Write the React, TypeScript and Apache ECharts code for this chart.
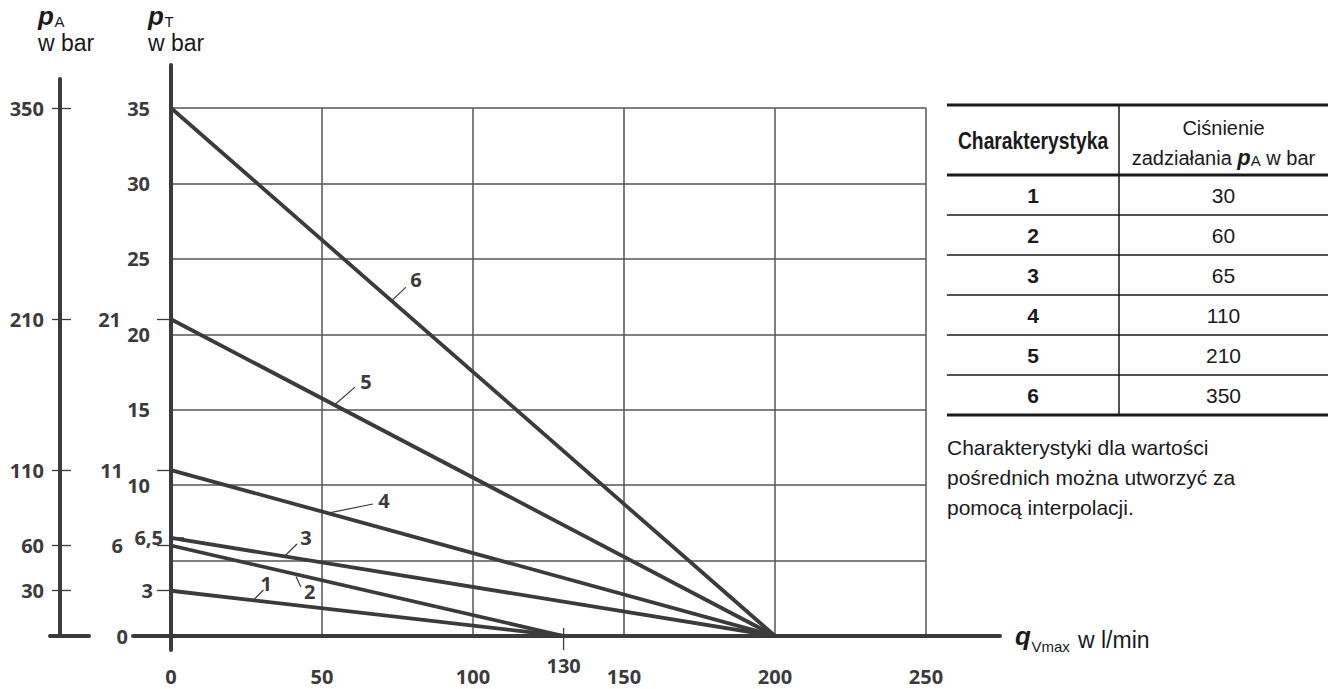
import React, { useEffect, useRef } from "react";
import * as echarts from "echarts";

// ---------- data ----------
const qTicks = [0, 50, 100, 150, 200, 250];
const pTGridLabels = [10, 15, 20, 25, 30, 35];
const pTExtraLabels = [0, 3, 6, 6.5, 11, 21];
const pTExtraTicks = [3, 6, 11, 21];
const pATicks = [30, 60, 110, 210, 350];
const qMarked = [130];

const curveIds = ["1", "2", "3", "4", "5", "6"];
const pAValues = [30, 60, 65, 110, 210, 350];
const pTStart = [3, 6, 6.5, 11, 21, 35];
const qEnd = [130, 130, 200, 200, 200, 200];

// leader lines for the curve numbers (data coordinates q, pT)
const leaderFrom = [[27.3, 2.39], [41.4, 3.95], [37.7, 5.3], [52, 8.15], [54.3, 15.35], [73.2, 22.25]];
const leaderTo = [[30.6, 3.05], [43, 3.25], [41.7, 6.1], [66.9, 8.75], [60.9, 16.5], [77.8, 23.13]];
const labelAt = [[31.5, 3.45], [45.9, 2.95], [44.7, 6.5], [70.5, 8.95], [64.6, 16.87], [81.1, 23.6]];
const pT65Tick = [[-2.6, 6.5], [4.3, 6.5]];
const q130Tick = [[130, -0.93], [130, 0.53]];

const noteLines = [
  "Charakterystyki dla wartości",
  "pośrednich można utworzyć za",
  "pomocą interpolacji.",
];

// ---------- layout / style ----------
const INK = "#3b3b3b";
const TXT = "#1a1a1a";
const AXIS_FONT = "'Open Sans', sans-serif";
const TEXT_FONT = "'Liberation Sans', Arial, sans-serif";
const GRID = { left: 171, top: 108, width: 755, height: 528 };
const PA_GRID = { left: 50, top: 79, width: 39, height: 557 };
const FRAME_GRID = { left: 133, top: 65, width: 867, height: 585 };
const labelPad: Record<string, number> = { "0": 35, "3": 10, "6": 40, "6.5": 0, "11": 40, "21": 42 };

const axisText = { fontFamily: AXIS_FONT, fontWeight: "bold" as const, fontSize: 20, color: INK };

function hiddenAxis(gridIndex: number, min: number, max: number) {
  return {
    type: "value" as const,
    gridIndex,
    min,
    max,
    axisLine: { show: false },
    axisTick: { show: false },
    axisLabel: { show: false },
    splitLine: { show: false },
  };
}

function txt(x: number, y: number, text: string, font: string, extra: any = {}) {
  return { type: "text", x, y, style: { text, font, fill: TXT, verticalAlign: "middle", ...extra } };
}

export default function App() {
  const ref = useRef<HTMLDivElement>(null);
  useEffect(() => {
    const chart = echarts.init(ref.current!, null, { renderer: "svg" });

    const curveSeries = curveIds.map((id, i) => ({
      type: "line" as const,
      name: "Charakterystyka " + id,
      xAxisIndex: 0,
      yAxisIndex: 0,
      data: [[0, pTStart[i]], [qEnd[i], 0]],
      symbol: "none",
      clip: false,
      silent: true,
      z: 5,
      lineStyle: { color: INK, width: 3.8 },
    }));
    const leaderSeries = curveIds.map((id, i) => ({
      type: "line" as const,
      xAxisIndex: 0,
      yAxisIndex: 0,
      data: [leaderFrom[i], leaderTo[i]],
      symbol: "none",
      clip: false,
      silent: true,
      z: 6,
      lineStyle: { color: INK, width: 1.2 },
    }));
    const labelSeries = {
      type: "scatter" as const,
      xAxisIndex: 0,
      yAxisIndex: 0,
      symbolSize: 0,
      silent: true,
      z: 7,
      itemStyle: { color: INK, opacity: 1 },
      data: labelAt.map((p, i) => ({ value: p, name: curveIds[i] })),
      label: {
        show: true,
        position: "inside",
        formatter: (p: any) => curveIds[p.dataIndex],
        ...axisText,
        color: INK,
        opacity: 1,
        textBorderWidth: 0,
        textBorderColor: "transparent",
      },
    };
    const tickSeries = [pT65Tick, q130Tick].map((d) => ({
      type: "line" as const,
      xAxisIndex: 1,
      yAxisIndex: 1,
      data: d,
      symbol: "none",
      clip: false,
      silent: true,
      z: 6,
      lineStyle: { color: INK, width: 1.3 },
    }));

    const tTop = 105, tHead = 175, rowH = 40, tL = 947, tR = 1328, tD = 1119;
    const tBottom = tHead + rowH * curveIds.length;
    const hLine = (y: number, w: number) => ({
      type: "line", shape: { x1: tL, y1: y, x2: tR, y2: y }, style: { stroke: TXT, lineWidth: w },
    });
    const tableGraphics: any[] = [
      hLine(tTop, 3),
      hLine(tHead, 3),
      ...curveIds.slice(1).map((_, k) => hLine(tHead + rowH * (k + 1), 1.5)),
      hLine(tBottom, 3),
      { type: "line", shape: { x1: tD, y1: tTop, x2: tD, y2: tBottom }, style: { stroke: TXT, lineWidth: 1.5 } },
      {
        type: "text", x: (tL + tD) / 2, y: (tTop + tHead) / 2 + 1, scaleX: 0.84,
        style: { text: "Charakterystyka", align: "center", verticalAlign: "middle", fill: TXT,
          font: "bold 23px " + TEXT_FONT },
      },
      txt((tD + tR) / 2, 128, "Ciśnienie", "20px " + TEXT_FONT, { align: "center" }),
      {
        type: "text", x: (tD + tR) / 2, y: 157,
        style: {
          text: "{t|zadziałania }{p|p}{s|A}{t| w bar}", align: "center", verticalAlign: "middle",
          rich: {
            t: { fontSize: 20, fontFamily: TEXT_FONT, fill: TXT, lineHeight: 22, verticalAlign: "bottom" },
            p: { fontSize: 22, fontFamily: TEXT_FONT, fontWeight: "bold", fontStyle: "italic", fill: TXT, lineHeight: 22, verticalAlign: "bottom" },
            s: { fontSize: 15, fontFamily: TEXT_FONT, fill: TXT, lineHeight: 8, verticalAlign: "bottom" },
          },
        },
      },
      ...curveIds.map((id, i) =>
        txt((tL + tD) / 2, tHead + rowH * (i + 0.5), id, "bold 21px " + TEXT_FONT, { align: "center" })
      ),
      ...pAValues.map((v, i) =>
        txt((tD + tR) / 2, tHead + rowH * (i + 0.5), String(v), "21px " + TEXT_FONT, { align: "center" })
      ),
      {
        type: "text", x: 947, y: 432,
        style: { text: noteLines.join("\n"), lineHeight: 30, align: "left", verticalAlign: "top", fill: TXT, font: "21px " + TEXT_FONT },
      },
    ];

    const P_FONT = "italic bold 26px " + TEXT_FONT;
    const SUB_FONT = "15px " + TEXT_FONT;
    const UNIT_FONT = "23px " + TEXT_FONT;
    const axisTitles: any[] = [
      txt(38, 15.5, "p", P_FONT),
      txt(54.5, 21.5, "A", SUB_FONT),
      txt(38, 42.5, "w bar", UNIT_FONT),
      txt(148, 15.5, "p", P_FONT),
      txt(164.5, 21.5, "T", SUB_FONT),
      txt(148, 42.5, "w bar", UNIT_FONT),
      txt(1015, 636, "q", P_FONT),
      txt(1031.5, 646.5, "Vmax", SUB_FONT),
      txt(1078, 640, "w l/min", UNIT_FONT),
    ];

    const option: any = {
      animation: false,
      backgroundColor: "#ffffff",
      grid: [
        { ...GRID, containLabel: false },
        { ...GRID, containLabel: false },
        { ...PA_GRID, containLabel: false },
        { ...PA_GRID, containLabel: false },
        { ...FRAME_GRID, containLabel: false },
      ],
      xAxis: [
        {
          type: "value", gridIndex: 0, min: 0, max: 250, interval: 50,
          axisLine: { show: false, onZero: false }, axisTick: { show: false },
          axisLabel: { ...axisText, margin: 30, formatter: (v: number) => (qTicks.includes(v) ? String(v) : "") },
          splitLine: { show: true, lineStyle: { color: "#555555", width: 1.5 } },
        },
        {
          type: "value", gridIndex: 1, min: 0, max: 250,
          axisLine: { show: false, onZero: false }, axisTick: { show: false },
          axisLabel: { ...axisText, margin: 19, customValues: qMarked },
          splitLine: { show: false },
        },
        { ...hiddenAxis(2, 0, 1), axisLine: { show: true, onZero: false, lineStyle: { color: INK, width: 4 } } },
        hiddenAxis(3, 0, 1),
        { ...hiddenAxis(4, 0, 1), offset: -14, axisLine: { show: true, onZero: false, lineStyle: { color: INK, width: 4 } } },
      ],
      yAxis: [
        {
          type: "value", gridIndex: 0, min: 0, max: 35, interval: 5,
          axisLine: { show: false, onZero: false }, axisTick: { show: false },
          axisLabel: { ...axisText, margin: 21, formatter: (v: number) => (pTGridLabels.includes(v) ? String(v) : "") },
          splitLine: { show: true, lineStyle: { color: "#555555", width: 1.5 } },
        },
        {
          type: "value", gridIndex: 1, min: 0, max: 35,
          axisLine: { show: false, onZero: false },
          axisTick: { show: true, length: 14, customValues: pTExtraTicks, lineStyle: { color: INK, width: 1.3 } },
          axisLabel: {
            ...axisText, margin: 8, customValues: pTExtraLabels,
            formatter: (v: number) => `{k${String(v).replace(".", "_")}|${String(v).replace(".", ",")}}`,
            rich: Object.fromEntries(
              pTExtraLabels.map((v) => [
                "k" + String(v).replace(".", "_"),
                { ...axisText, padding: [0, labelPad[String(v)] ?? 0, 0, 0] },
              ])
            ),
          },
          splitLine: { show: false },
        },
        {
          type: "value", gridIndex: 2, min: 0, max: (350 * PA_GRID.height) / GRID.height, offset: -10,
          axisLine: { show: true, onZero: false, lineStyle: { color: INK, width: 4 } },
          axisTick: { show: true, length: 8, customValues: pATicks, lineStyle: { color: INK, width: 1.3 } },
          axisLabel: { ...axisText, margin: 16, customValues: pATicks },
          splitLine: { show: false },
        },
        {
          type: "value", gridIndex: 3, min: 0, max: (350 * PA_GRID.height) / GRID.height, offset: -10,
          axisLine: { show: false, onZero: false },
          axisTick: { show: true, inside: true, length: 11, customValues: pATicks, lineStyle: { color: INK, width: 1.3 } },
          axisLabel: { show: false },
          splitLine: { show: false },
        },
        { ...hiddenAxis(4, 0, 1), offset: -38, axisLine: { show: true, onZero: false, lineStyle: { color: INK, width: 4 } } },
      ],
      series: [...curveSeries, ...leaderSeries, labelSeries, ...tickSeries],
      graphic: [...tableGraphics, ...axisTitles],
    };
    chart.setOption(option);
    return () => chart.dispose();
  }, []);
  return <div ref={ref} style={{ position: "fixed", left: 0, top: 0, width: 1336, height: 689 }} />;
}
